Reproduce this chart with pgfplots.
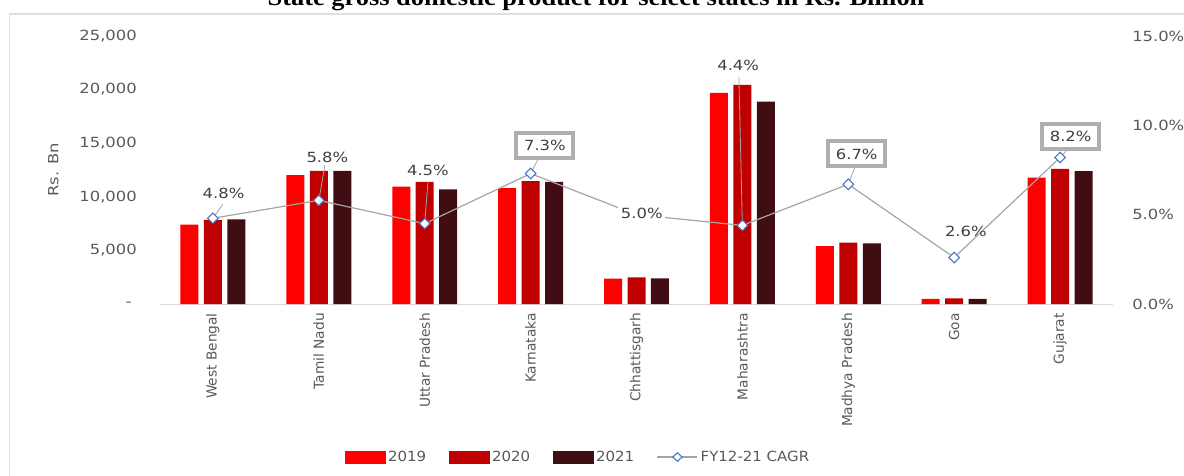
\documentclass[border=0pt]{standalone}
\usepackage{fontspec}
\setmainfont{DejaVu Sans}
\newfontfamily\wide[FakeStretch=1.17]{DejaVu Sans}
\newfontfamily\legfont[FakeStretch=1.07]{DejaVu Sans}
\newfontfamily\titlefont[FakeStretch=1.1]{Liberation Serif}
\usepackage{pgfplots}
\pgfplotsset{compat=1.18}
\definecolor{c19}{RGB}{255,0,0}
\definecolor{c20}{RGB}{192,0,0}
\definecolor{c21}{RGB}{64,14,18}
\definecolor{lblgray}{RGB}{89,89,89}
\definecolor{txtgray}{RGB}{64,64,64}
\definecolor{linegray}{RGB}{165,165,165}
\definecolor{axgray}{RGB}{217,217,217}
\definecolor{boxgray}{RGB}{175,175,175}
\definecolor{mkblue}{RGB}{68,114,196}
\begin{document}
\begin{tikzpicture}
\begin{axis}[
 at={(120pt,-228pt)}, anchor=south west,
 scale only axis, width=714.75pt, height=201pt,
 xmin=-0.5, xmax=8.5, ymin=0, ymax=25000,
 axis x line*=bottom, axis y line*=left,
 axis line style={-},
 y axis line style={draw=none},
 x axis line style={draw=axgray, line width=0.7pt},
 major tick length=0pt,
 scaled y ticks=false,
 xticklabel shift=6.75pt,
 yticklabel shift=17.25pt,
 xtick={0,...,8},
 xticklabels={West Bengal,Tamil Nadu,Uttar Pradesh,Karnataka,Chhattisgarh,Maharashtra,Madhya Pradesh,Goa,Gujarat},
 xticklabel style={rotate=90, anchor=east, font=\fontsize{10.3}{12}\selectfont, text=lblgray, inner sep=0pt},
 ytick={0,5000,10000,15000,20000,25000},
 yticklabels={{-\ \ },{5,000},{10,000},{15,000},{20,000},{25,000}},
 yticklabel style={anchor=east, font=\wide\fontsize{10.5}{12}\selectfont, text=lblgray, inner sep=0pt},
 clip=false,
]
\addplot[ybar, bar width=13.5pt, bar shift=-17.6pt, fill=c19, draw=none] coordinates {
(0,7400) (1,12030) (2,10950) (3,10800) (4,2360) (5,19700) (6,5410) (7,480) (8,11800)};
\addplot[ybar, bar width=13.5pt, bar shift=0pt, fill=c20, draw=none] coordinates {
(0,7840) (1,12430) (2,11400) (3,11470) (4,2490) (5,20430) (6,5720) (7,520) (8,12600)};
\addplot[ybar, bar width=13.5pt, bar shift=17.6pt, fill=c21, draw=none] coordinates {
(0,7900) (1,12430) (2,10700) (3,11400) (4,2400) (5,18870) (6,5660) (7,480) (8,12400)};
\end{axis}
\begin{axis}[
 at={(120pt,-228pt)}, anchor=south west,
 scale only axis, width=714.75pt, height=201pt,
 xmin=-0.5, xmax=8.5, ymin=0, ymax=15,
 axis x line=none, axis y line*=right,
 axis line style={-},
 y axis line style={draw=none},
 major tick length=0pt,
 yticklabel shift=14.25pt,
 ytick={0,5,10,15},
 yticklabels={0.0\%,5.0\%,10.0\%,15.0\%},
 yticklabel style={anchor=west, font=\wide\fontsize{10.5}{12}\selectfont, text=lblgray, inner sep=0pt},
 legend columns=4,
 legend cell align=left,
 legend style={at={(0.439,-0.571)}, anchor=center, draw=none, fill=none,
   font=\legfont\fontsize{10.5}{12}\selectfont\color{lblgray},
   /tikz/every even column/.append style={column sep=15pt},
   /tikz/every odd column/.append style={column sep=0pt}},
 clip=false,
]
\addlegendimage{legend image code/.code={\fill[c19] (0pt,-4.5pt) rectangle (30pt,4.5pt);}}
\addlegendentry{2019}
\addlegendimage{legend image code/.code={\fill[c20] (0pt,-4.5pt) rectangle (30pt,4.5pt);}}
\addlegendentry{2020}
\addlegendimage{legend image code/.code={\fill[c21] (0pt,-4.5pt) rectangle (30pt,4.5pt);}}
\addlegendentry{2021}
\addlegendimage{legend image code/.code={\draw[linegray,line width=0.9pt] (0pt,0pt)--(30pt,0pt); \draw[mkblue, fill=white, line width=0.8pt] (15pt,3.2pt)--(18.5pt,0pt)--(15pt,-3.2pt)--(11.5pt,0pt)--cycle;}}
\addlegendentry{FY12-21 CAGR}
\addplot[forget plot, color=linegray, line width=0.9pt, mark=none]
 coordinates {(0,4.8) (1,5.8) (2,4.5) (3,7.3) (4,5.0) (5,4.4) (6,6.7) (7,2.6) (8,8.2)};
% leader lines
\draw[linegray, line width=0.6pt] (axis cs:0.094,5.58) -- (axis cs:0,4.8);
\draw[linegray, line width=0.6pt] (axis cs:1.057,7.77) -- (axis cs:1,5.8);
\draw[linegray, line width=0.6pt] (axis cs:2.03,6.81) -- (axis cs:2,4.5);
\draw[linegray, line width=0.6pt] (axis cs:3.07,8.10) -- (axis cs:3,7.3);
\draw[linegray, line width=0.6pt] (axis cs:4.967,12.70) -- (axis cs:5,4.4);
\draw[linegray, line width=0.6pt] (axis cs:6.062,7.66) -- (axis cs:6,6.7);
\draw[linegray, line width=0.6pt] (axis cs:8.064,8.61) -- (axis cs:8,8.2);
\addplot[forget plot, only marks, mark=square*, mark size=2.8pt,
  mark options={rotate=45, fill=white, draw=mkblue, line width=0.8pt}]
 coordinates {(0,4.8) (1,5.8) (2,4.5) (3,7.3) (5,4.4) (6,6.7) (7,2.6) (8,8.2)};
% labels
\tikzset{plain/.style={font=\wide\fontsize{10.5}{12}\selectfont, text=txtgray, inner sep=1pt},
  boxed/.style={font=\wide\fontsize{10.5}{12}\selectfont, text=txtgray, draw=boxgray, line width=3pt, fill=white, minimum width=42.75pt, minimum height=18.75pt, inner sep=1pt}}
\node[plain] at (axis cs:0.10,6.2) {4.8\%};
\node[plain] at (axis cs:1.08,8.23) {5.8\%};
\node[plain] at (axis cs:2.03,7.49) {4.5\%};
\node[boxed] at (axis cs:3.135,8.89) {7.3\%};
\node[plain, fill=white, inner sep=2pt] at (axis cs:4.05,5.05) {5.0\%};
\node[plain] at (axis cs:4.96,13.37) {4.4\%};
\node[boxed] at (axis cs:6.08,8.40) {6.7\%};
\node[plain] at (axis cs:7.11,4.07) {2.6\%};
\node[boxed] at (axis cs:8.10,9.39) {8.2\%};
\end{axis}
\node[rotate=90, font=\wide\fontsize{10.5}{12}\selectfont, text=lblgray] at (40pt,-127.5pt) {Rs. Bn};
\node[anchor=base, font=\titlefont\bfseries\fontsize{18}{20}\selectfont] at (447pt,-3.75pt) {State gross domestic product for select states in Rs. Billion};
\draw[gray!25, line width=0.8pt] (7pt,-10.5pt) rectangle (895pt,-365pt);
\pgfresetboundingbox
\useasboundingbox (0pt,0pt) rectangle (888pt,-356.25pt);
\end{tikzpicture}
\end{document}
